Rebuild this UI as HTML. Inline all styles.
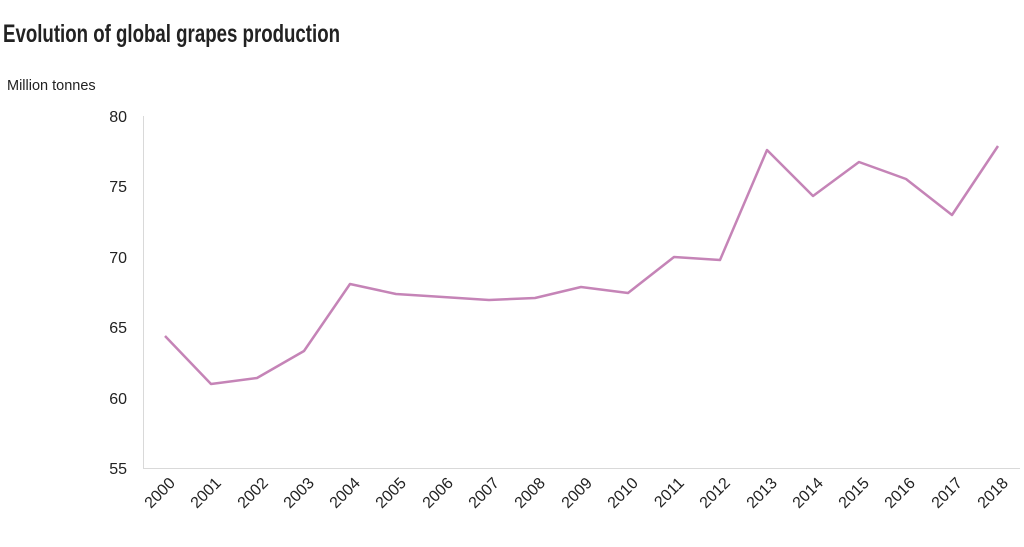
<!DOCTYPE html>
<html><head><meta charset="utf-8"><style>
body{margin:0;background:#fff;width:1024px;height:542px;overflow:hidden}
</style></head><body>
<svg width="1024" height="542" xmlns="http://www.w3.org/2000/svg" font-family="Liberation Sans, sans-serif">
<text x="3" y="42" font-family="Liberation Sans Narrow, Liberation Sans, sans-serif" font-weight="bold" font-size="25" fill="#222" textLength="337" lengthAdjust="spacingAndGlyphs">Evolution of global grapes production</text>
<text x="7" y="90" font-size="14.5" fill="#222">Million tonnes</text>
<line x1="143.5" y1="116" x2="143.5" y2="469" stroke="#d9d9d9" stroke-width="1"/>
<line x1="143" y1="468.5" x2="1020" y2="468.5" stroke="#d9d9d9" stroke-width="1"/>
<g font-size="16" fill="#222" text-anchor="end">
<text x="127" y="122">80</text>
<text x="127" y="192">75</text>
<text x="127" y="263">70</text>
<text x="127" y="333">65</text>
<text x="127" y="404">60</text>
<text x="127" y="474">55</text>
</g>
<g font-size="16" fill="#222" text-anchor="end">
<text transform="translate(176,484) rotate(-45)">2000</text>
<text transform="translate(222,484) rotate(-45)">2001</text>
<text transform="translate(269,484) rotate(-45)">2002</text>
<text transform="translate(315,484) rotate(-45)">2003</text>
<text transform="translate(361,484) rotate(-45)">2004</text>
<text transform="translate(407,484) rotate(-45)">2005</text>
<text transform="translate(454,484) rotate(-45)">2006</text>
<text transform="translate(500,484) rotate(-45)">2007</text>
<text transform="translate(546,484) rotate(-45)">2008</text>
<text transform="translate(593,484) rotate(-45)">2009</text>
<text transform="translate(639,484) rotate(-45)">2010</text>
<text transform="translate(685,484) rotate(-45)">2011</text>
<text transform="translate(731,484) rotate(-45)">2012</text>
<text transform="translate(778,484) rotate(-45)">2013</text>
<text transform="translate(824,484) rotate(-45)">2014</text>
<text transform="translate(870,484) rotate(-45)">2015</text>
<text transform="translate(916,484) rotate(-45)">2016</text>
<text transform="translate(963,484) rotate(-45)">2017</text>
<text transform="translate(1009,484) rotate(-45)">2018</text>
</g>
<polyline fill="none" stroke="#c584b7" stroke-width="2.5" stroke-linejoin="round" points="165,336 211,384 257,378 304,351 350,284 396,294 443,297 489,300 535,298 581,287 628,293 674,257 720,260 767,150 813,196 859,162 906,179 952,215 998,146"/>
</svg>
</body></html>
